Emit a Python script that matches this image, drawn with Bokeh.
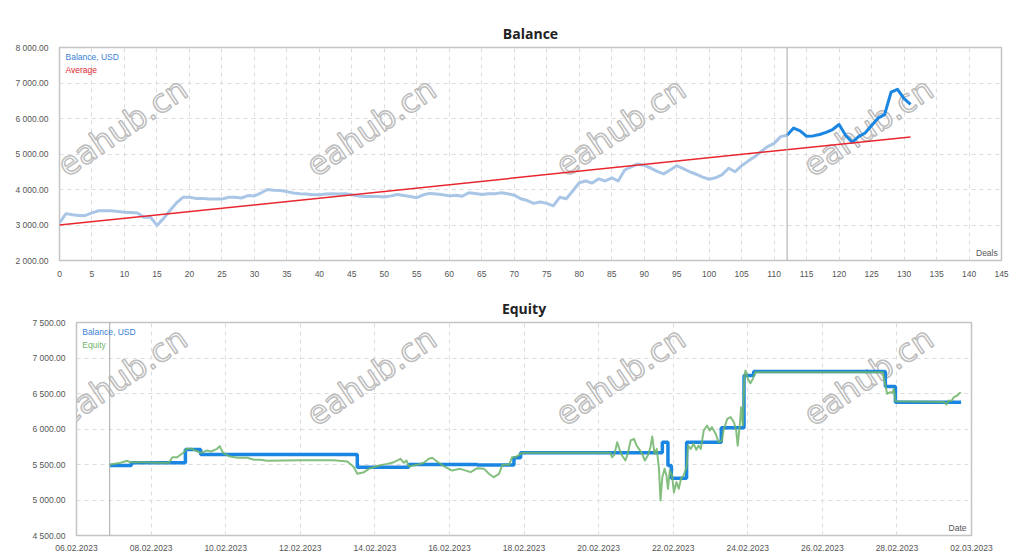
import pandas as pd
from bokeh.plotting import figure
from bokeh.models import Range1d, FixedTicker, Span, Label, DatetimeTickFormatter
from bokeh.embed import file_html
from bokeh.resources import INLINE

# ---------------- data: Balance chart ----------------
deals_hist = list(range(0, 113))
balance_hist = [3060, 3320, 3290, 3270, 3270, 3340, 3400, 3400, 3400, 3380,
                3360, 3350, 3340, 3220, 3220, 2990, 3180, 3410, 3620, 3780,
                3780, 3750, 3750, 3730, 3730, 3730, 3780, 3780, 3760, 3830,
                3820, 3900, 4000, 3980, 3970, 3940, 3900, 3880, 3870, 3850,
                3850, 3870, 3880, 3870, 3880, 3850, 3820, 3800, 3800, 3800,
                3790, 3820, 3860, 3830, 3800, 3770, 3850, 3890, 3870, 3850,
                3820, 3840, 3810, 3910, 3890, 3860, 3880, 3880, 3910, 3880,
                3840, 3740, 3690, 3610, 3650, 3610, 3540, 3780, 3740, 3960,
                4190, 4240, 4180, 4300, 4240, 4330, 4240, 4550, 4640, 4720,
                4680, 4600, 4510, 4440, 4550, 4670, 4590, 4500, 4430, 4350,
                4290, 4330, 4420, 4600, 4500, 4670, 4800, 4920, 5070, 5210,
                5300, 5490, 5530]
deals_fwd = list(range(112, 132))
balance_fwd = [5530, 5730, 5650, 5500, 5510, 5550, 5610, 5690, 5830, 5530,
               5330, 5490, 5590, 5800, 6010, 6110, 6740, 6820, 6560, 6400]
avg_deals = [0, 131]
avg_balance = [3000, 5480]
split_deal = 112
deal_ticks = list(range(0, 150, 5))
bal_ticks = [2000, 3000, 4000, 5000, 6000, 7000, 8000]
bal_tick_labels = ["2 000.00", "3 000.00", "4 000.00", "5 000.00",
                   "6 000.00", "7 000.00", "8 000.00"]

# ---------------- data: Equity chart ----------------
start_date = "2023-02-06"
end_date = "2023-03-02"
split_day = 0.89
bal_step_days = [0.89, 1.47, 2.92, 3.33, 7.53, 8.91, 10.75, 11.73, 11.91, 15.71,
                 15.86, 15.95, 16.36, 17.29, 17.90, 18.16, 21.69, 21.96, 23.72]
bal_step_vals = [5486, 5524, 5711, 5641, 5462, 5500, 5493, 5594, 5664, 5814,
                 5486, 5307, 5814, 6017, 6754, 6810, 6599, 6378, 6378]
eq_days = [0.89, 0.91, 1.18, 1.36, 1.45, 1.81, 2.16, 2.48, 2.57, 2.70,
           2.79, 2.88, 2.95, 3.10, 3.24, 3.33, 3.50, 3.61, 3.77, 3.84,
           3.93, 4.09, 4.31, 4.58, 4.76, 4.93, 5.11, 6.01, 6.90, 7.26,
           7.39, 7.44, 7.53, 7.71, 7.84, 7.97, 8.11, 8.33, 8.51, 8.69,
           8.78, 8.85, 8.91, 9.14, 9.31, 9.45, 9.54, 9.67, 9.85, 10.07,
           10.29, 10.57, 10.75, 10.93, 11.06, 11.19, 11.33, 11.42, 11.60, 11.68,
           11.77, 11.95, 14.32, 14.36, 14.42, 14.50, 14.57, 14.63, 14.72, 14.78,
           14.86, 14.95, 15.02, 15.08, 15.17, 15.24, 15.32, 15.39, 15.44, 15.50,
           15.56, 15.62, 15.66, 15.71, 15.77, 15.82, 15.86, 15.91, 15.97, 16.02,
           16.09, 16.15, 16.21, 16.28, 16.36, 16.40, 16.47, 16.55, 16.62, 16.68,
           16.74, 16.82, 16.91, 16.98, 17.04, 17.14, 17.22, 17.31, 17.35, 17.45,
           17.54, 17.63, 17.69, 17.73, 17.79, 17.82, 17.87, 17.91, 17.94, 18.00,
           18.07, 18.14, 18.20, 21.62, 21.69, 21.74, 21.82, 21.87, 21.92, 21.96,
           23.26, 23.33, 23.39, 23.46, 23.53, 23.62, 23.66, 23.71]
eq_vals = [5486, 5500, 5524, 5552, 5532, 5532, 5524, 5524, 5603, 5603,
           5637, 5673, 5721, 5721, 5683, 5664, 5697, 5683, 5721, 5758,
           5664, 5617, 5594, 5594, 5566, 5566, 5552, 5561, 5561, 5542,
           5486, 5462, 5369, 5392, 5439, 5462, 5486, 5509, 5533, 5580,
           5524, 5556, 5472, 5495, 5524, 5580, 5594, 5542, 5476, 5415,
           5439, 5392, 5448, 5439, 5369, 5321, 5369, 5495, 5495, 5603,
           5603, 5664, 5664, 5603, 5636, 5814, 5697, 5627, 5556, 5650,
           5838, 5861, 5767, 5720, 5650, 5556, 5627, 5744, 5894, 5650,
           5720, 5439, 4993, 5322, 5439, 5345, 5158, 5416, 5345, 5110,
           5252, 5158, 5298, 5345, 5462, 5767, 5720, 5791, 5706, 5767,
           5720, 5979, 6049, 5979, 6026, 5932, 5814, 5838, 5979, 6143,
           6167, 6096, 5979, 5767, 6073, 6307, 6049, 6754, 6824, 6707,
           6646, 6707, 6800, 6800, 6613, 6496, 6518, 6504, 6566, 6392,
           6380, 6345, 6401, 6395, 6448, 6472, 6496, 6518]
date_ticks = pd.date_range("2023-02-06", "2023-03-02", freq="2D")
eq_ticks = [4500, 5000, 5500, 6000, 6500, 7000, 7500]
eq_tick_labels = ["4 500.00", "5 000.00", "5 500.00", "6 000.00",
                  "6 500.00", "7 000.00", "7 500.00"]

# ---------------- styling helpers ----------------
LBL_FONT = "Liberation Sans"
GRID = "#dcdcdc"


def style(p):
    p.outline_line_color = "#c4c4c4"
    p.outline_line_width = 1.5
    p.background_fill_color = "white"
    p.border_fill_color = "white"
    for ax in (p.xaxis[0], p.yaxis[0]):
        ax.axis_line_color = None
        ax.major_tick_line_color = None
        ax.minor_tick_line_color = None
        ax.major_label_text_color = "#555555"
        ax.major_label_text_font = LBL_FONT
        ax.major_label_text_font_size = "8.5px"
        ax.major_label_standoff = 5
    p.xaxis[0].major_label_standoff = 4
    for g in (p.xgrid[0], p.ygrid[0]):
        g.grid_line_color = GRID
        g.grid_line_dash = "4 4"
        g.grid_line_width = 1
    p.title.align = "center"
    p.title.text_font = "Open Sans"
    p.title.text_font_style = "bold"
    p.title.text_font_size = "14px"
    p.title.text_color = "#222222"


def watermarks(p, xs, y):
    for x in xs:
        p.add_layout(Label(x=x, y=y, text="eahub.cn", angle=34, angle_units="deg",
                           text_align="center", text_baseline="middle",
                           text_font="DejaVu Sans", text_font_size="32px",
                           text_color="white", text_alpha=0.9,
                           text_outline_color="#b4b4b4",
                           level="underlay"))


# ---------------- Balance figure ----------------
top = figure(width=1027, height=290, title="Balance",
             x_range=Range1d(0, 145), y_range=Range1d(2000, 8000),
             output_backend="svg", toolbar_location=None,
             min_border_left=59, min_border_right=26,
             min_border_top=47, min_border_bottom=30)
style(top)
top.xaxis.ticker = FixedTicker(ticks=deal_ticks)
top.yaxis.ticker = FixedTicker(ticks=bal_ticks)
top.yaxis.major_label_overrides = dict(zip(bal_ticks, bal_tick_labels))
watermarks(top, [9.7, 48.0, 86.4, 124.5], 5755)

top.add_layout(Span(location=split_deal, dimension="height",
                    line_color="#a8a8a8", line_width=1))
top.line(deals_hist, balance_hist, line_color="#a9c6e6", line_width=3,
         line_join="round")
top.line(deals_fwd, balance_fwd, line_color="#1a86e2", line_width=3,
         line_join="round")
top.line(avg_deals, avg_balance, line_color="#e8262e", line_width=1.5)

xr, yr = 145.0, 6000.0
top.add_layout(Label(x=0.0064 * xr, y=2000 + 0.954 * yr, text="Balance, USD",
                     text_color="#3b7fd4", text_font=LBL_FONT,
                     text_font_size="8.5px", text_baseline="middle"))
top.add_layout(Label(x=0.0064 * xr, y=2000 + 0.896 * yr, text="Average",
                     text_color="#e0262e", text_font=LBL_FONT,
                     text_font_size="8.5px", text_baseline="middle"))
top.add_layout(Label(x=0.996 * xr, y=2000 + 0.012 * yr, text="Deals",
                     text_color="#555555", text_font=LBL_FONT,
                     text_font_size="8.5px", text_align="right",
                     text_baseline="bottom"))

# ---------------- Equity figure ----------------
t0 = pd.Timestamp(start_date)
t1 = pd.Timestamp(end_date)
span_days = (t1 - t0) / pd.Timedelta(days=1)


def to_dt(days):
    return [t0 + pd.Timedelta(days=d) for d in days]


bot = figure(width=1027, height=266, title="Equity", x_axis_type="datetime",
             x_range=Range1d(t0, t1), y_range=Range1d(4500, 7500),
             output_backend="svg", toolbar_location=None,
             min_border_left=76, min_border_right=56,
             min_border_top=32, min_border_bottom=21)
style(bot)
bot.xaxis.ticker = FixedTicker(ticks=[t.value // 10**6 for t in date_ticks])
fmt = "%d.%m.%Y"
bot.xaxis.formatter = DatetimeTickFormatter(days=fmt, months=fmt, years=fmt,
                                            hours=fmt, minutes=fmt)
bot.xaxis.major_label_standoff = 3
bot.yaxis.ticker = FixedTicker(ticks=eq_ticks)
bot.yaxis.major_label_overrides = dict(zip(eq_ticks, eq_tick_labels))
watermarks(bot, to_dt([1.23, 7.91, 14.59, 21.24]), 6740)

bot.add_layout(Span(location=to_dt([split_day])[0], dimension="height",
                    line_color="#a8a8a8", line_width=1))
bot.step(to_dt(bal_step_days), bal_step_vals, mode="after",
         line_color="#1a86e2", line_width=3.5)
bot.line(to_dt(eq_days), eq_vals, line_color="#6fb46a", line_width=2,
         line_alpha=0.85, line_join="round")

bot.add_layout(Label(x=to_dt([0.0064 * span_days])[0], y=4500 + 0.956 * 3000,
                     text="Balance, USD", text_color="#3b7fd4", text_font=LBL_FONT,
                     text_font_size="8.5px", text_baseline="middle"))
bot.add_layout(Label(x=to_dt([0.0064 * span_days])[0], y=4500 + 0.896 * 3000,
                     text="Equity", text_color="#6fb46a", text_font=LBL_FONT,
                     text_font_size="8.5px", text_baseline="middle"))
bot.add_layout(Label(x=to_dt([0.9944 * span_days])[0], y=4500 + 0.012 * 3000,
                     text="Date", text_color="#555555", text_font=LBL_FONT,
                     text_font_size="8.5px", text_align="right",
                     text_baseline="bottom"))

open("out.html", "w").write(file_html([top, bot], INLINE))
